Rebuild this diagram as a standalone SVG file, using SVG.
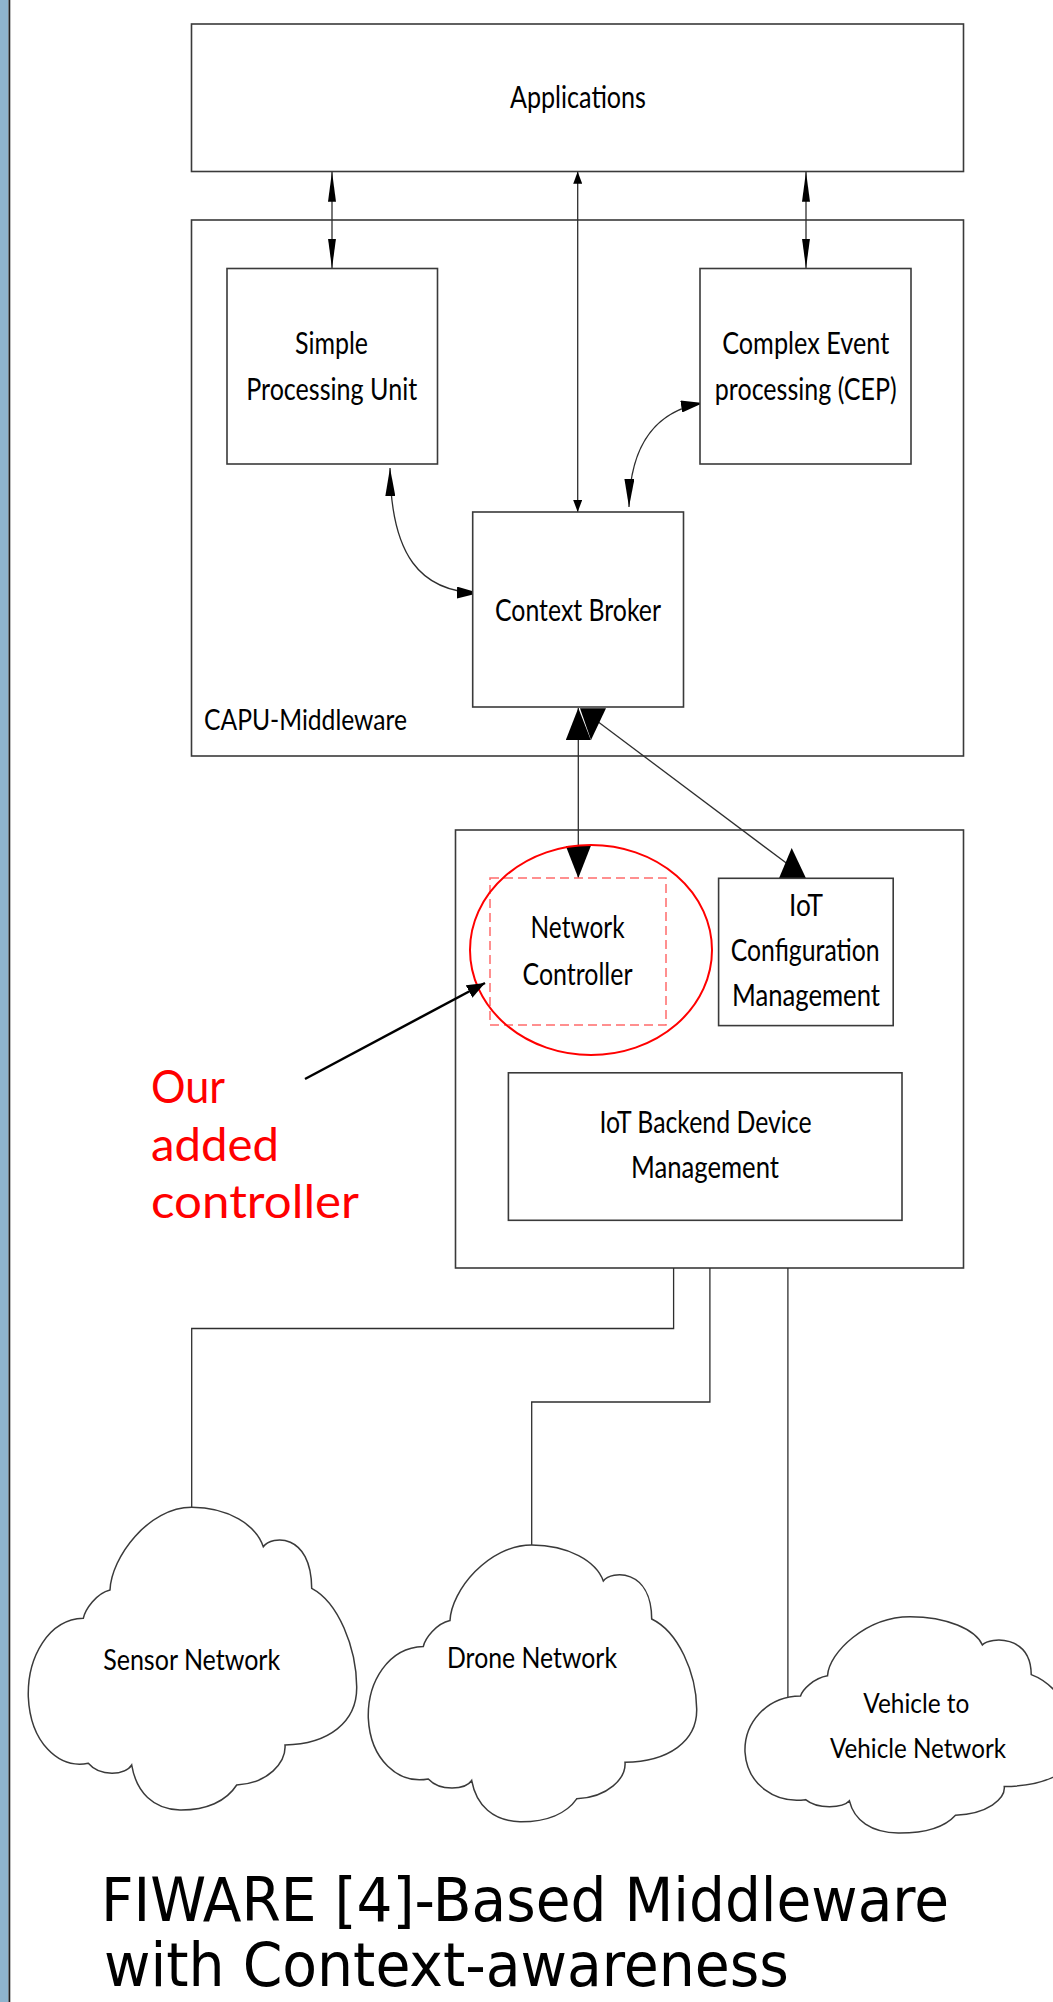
<svg xmlns="http://www.w3.org/2000/svg" xmlns:xlink="http://www.w3.org/1999/xlink" width="1053" height="2002" viewBox="0 0 1053 2002">
  <style>
    .box { fill: #ffffff; stroke: #3a3a3a; stroke-width: 1.6; }
    .wire { fill: none; stroke: #2e2e2e; stroke-width: 1.3; }
    .lbl { font-family: Lato, "Liberation Sans", sans-serif; font-size: 31px; fill: #000; text-anchor: middle; }
    .cloudlbl { font-family: Lato, "Liberation Sans", sans-serif; font-size: 29px; fill: #000; text-anchor: middle; }
    .note { font-family: Lato, "Liberation Sans", sans-serif; font-size: 46px; fill: #ff0000; }
    .title { font-family: "DejaVu Sans Condensed", "DejaVu Sans", "Liberation Sans", sans-serif; font-size: 60px; fill: #000; }
    .head { fill: #000; }
  </style>
  <defs>
    <marker id="spindle" viewBox="0 0 30 8" refX="30" refY="4" markerWidth="30" markerHeight="8" markerUnits="userSpaceOnUse" orient="auto-start-reverse">
      <path class="head" d="M0,0 L30,4 L0,8 z"/>
    </marker>
    <marker id="tick" viewBox="0 0 12 9" refX="12" refY="4.5" markerWidth="12" markerHeight="9" markerUnits="userSpaceOnUse" orient="auto-start-reverse">
      <path class="head" d="M0,0 L12,4.5 L0,9 z"/>
    </marker>
    <marker id="headLong" viewBox="0 0 28 10" refX="28" refY="5" markerWidth="28" markerHeight="10" markerUnits="userSpaceOnUse" orient="auto-start-reverse">
      <path class="head" d="M0,0 L28,5 L0,10 z"/>
    </marker>
    <marker id="headShort" viewBox="0 0 22 12" refX="22" refY="6" markerWidth="22" markerHeight="12" markerUnits="userSpaceOnUse" orient="auto-start-reverse">
      <path class="head" d="M0,0 L22,6 L0,12 z"/>
    </marker>
    <marker id="big" viewBox="0 0 32 25" refX="32" refY="12.5" markerWidth="32" markerHeight="25" markerUnits="userSpaceOnUse" orient="auto-start-reverse">
      <path class="head" d="M0,0 L32,12.5 L0,25 z"/>
    </marker>
    <marker id="pointer" viewBox="0 0 18 14" refX="18" refY="7" markerWidth="18" markerHeight="14" markerUnits="userSpaceOnUse" orient="auto">
      <path class="head" d="M0,0 L18,7 L0,14 z"/>
    </marker>
    <!-- cloud outline, 328 x 303 unit box -->
    <path id="cloudShape" vector-effect="non-scaling-stroke" fill="#ffffff" stroke="#3a3a3a" stroke-width="1.5"
      d="M55,111 C57,102 68,86 81.7,82.7 C83,50 120,0 163.4,0 C200,0 228,18 235,39.4 C243,28 283,25 283.4,81 C310,95 328,140 328.4,179.4 C329,215 300,237 256.7,237.7 C258,255 240,276 208.4,277.7 C198,294 178,303 151.7,302.7 C125,302 108,285 103.4,257.7 C97,268 72,270 60,256 C30,262 2,235 0,189.4 C-1,150 20,112 55,111 Z"/>
  </defs>

  <!-- page background and left slide border -->
  <rect x="0" y="0" width="1053" height="2002" fill="#ffffff"/>
  <rect x="0" y="0" width="8.5" height="2002" fill="#8eb4ce"/>
  <rect x="8.5" y="0" width="1.8" height="2002" fill="#222222"/>

  <!-- container nodes -->
  <g id="applications">
    <rect class="box" x="191.5" y="24" width="772" height="147.5"/>
    <text class="lbl" x="578" y="108" textLength="136" lengthAdjust="spacingAndGlyphs">Applications</text>
  </g>
  <g id="capu-middleware">
    <rect class="box" x="191.5" y="220" width="772" height="536"/>
    <text class="lbl" x="204" y="730" style="text-anchor:start;font-size:29px" textLength="203" lengthAdjust="spacingAndGlyphs">CAPU-Middleware</text>
  </g>
  <g id="iot-layer">
    <rect class="box" x="455.5" y="830" width="508" height="438"/>
  </g>

  <!-- connectors -->
  <g id="connectors">
    <path class="wire" d="M332,171.7 L332,268.5" marker-start="url(#spindle)" marker-end="url(#spindle)"/>
    <path class="wire" d="M806,171.7 L806,268.5" marker-start="url(#spindle)" marker-end="url(#spindle)"/>
    <path class="wire" d="M577.7,171.7 L577.7,512" marker-start="url(#tick)" marker-end="url(#tick)"/>
    <path class="wire" d="M390,468 C391,555 420,592 479,593" marker-start="url(#headLong)" marker-end="url(#headShort)"/>
    <path class="wire" d="M703,403 C660,410 630,440 629,507" marker-start="url(#headShort)" marker-end="url(#headLong)"/>
    <path class="wire" d="M578.3,708 L578.3,878" marker-start="url(#big)" marker-end="url(#big)"/>
    <path class="wire" d="M595,719.5 L795,869.6"/>
    <polygon class="head" points="580,708.3 606,708.3 591,740"/>
    <polygon class="head" points="791.7,848 779,878.3 806,878.3"/>
    <path class="wire" d="M673.6,1268 L673.6,1328.5 L191.7,1328.5 L191.7,1508"/>
    <path class="wire" d="M709.9,1268 L709.9,1402 L531.7,1402 L531.7,1546"/>
    <path class="wire" d="M787.9,1268 L787.9,1698"/>
  </g>

  <!-- inner nodes -->
  <g id="simple-processing-unit">
    <rect class="box" x="227" y="268.5" width="210.5" height="195.5"/>
    <text class="lbl" x="331.5" y="354" textLength="73" lengthAdjust="spacingAndGlyphs">Simple</text>
    <text class="lbl" x="331.7" y="400" textLength="171" lengthAdjust="spacingAndGlyphs">Processing Unit</text>
  </g>
  <g id="cep">
    <rect class="box" x="700" y="268.5" width="211" height="195.5"/>
    <text class="lbl" x="805.7" y="354" textLength="167" lengthAdjust="spacingAndGlyphs">Complex Event</text>
    <text class="lbl" x="805.8" y="400" textLength="182" lengthAdjust="spacingAndGlyphs">processing (CEP)</text>
  </g>
  <g id="context-broker">
    <rect class="box" x="472.7" y="512" width="210.8" height="195"/>
    <text class="lbl" x="578" y="621" textLength="166" lengthAdjust="spacingAndGlyphs">Context Broker</text>
  </g>
  <g id="network-controller">
    <rect x="490" y="878" width="176" height="147" fill="#ffffff" stroke="#ff6b6b" stroke-width="1.5" stroke-dasharray="9 5"/>
    <text class="lbl" x="577.6" y="938" textLength="94" lengthAdjust="spacingAndGlyphs">Network</text>
    <text class="lbl" x="577.5" y="984.6" textLength="110" lengthAdjust="spacingAndGlyphs">Controller</text>
  </g>
  <g id="iot-configuration">
    <rect class="box" x="718.6" y="878.3" width="174.6" height="147.3"/>
    <text class="lbl" x="806" y="916" textLength="34" lengthAdjust="spacingAndGlyphs">IoT</text>
    <text class="lbl" x="805.2" y="961" textLength="149" lengthAdjust="spacingAndGlyphs">Configuration</text>
    <text class="lbl" x="806" y="1006" textLength="148" lengthAdjust="spacingAndGlyphs">Management</text>
  </g>
  <g id="iot-backend">
    <rect class="box" x="508.4" y="1072.8" width="393.6" height="147.5"/>
    <text class="lbl" x="705.5" y="1133" textLength="212" lengthAdjust="spacingAndGlyphs">IoT Backend Device</text>
    <text class="lbl" x="705" y="1177.5" textLength="148" lengthAdjust="spacingAndGlyphs">Management</text>
  </g>

  <!-- network clouds -->
  <g id="sensor-network">
    <use xlink:href="#cloudShape" href="#cloudShape" transform="translate(28.3,1507.3)"/>
    <text class="cloudlbl" x="191.7" y="1670" textLength="177" lengthAdjust="spacingAndGlyphs">Sensor Network</text>
  </g>
  <g id="drone-network">
    <use xlink:href="#cloudShape" href="#cloudShape" transform="translate(368.3,1545) scale(1,0.914)"/>
    <text class="cloudlbl" x="532" y="1668" textLength="170" lengthAdjust="spacingAndGlyphs">Drone Network</text>
  </g>
  <g id="v2v-network">
    <use xlink:href="#cloudShape" href="#cloudShape" transform="translate(745,1616.7) scale(1.01,0.7146)"/>
    <text class="cloudlbl" x="916.3" y="1713" style="font-size:26px" textLength="106" lengthAdjust="spacingAndGlyphs">Vehicle to</text>
    <text class="cloudlbl" x="918" y="1758" style="font-size:26px" textLength="176" lengthAdjust="spacingAndGlyphs">Vehicle Network</text>
  </g>

  <!-- highlight of the added controller -->
  <g id="annotation">
    <ellipse cx="591" cy="950" rx="121" ry="105" fill="none" stroke="#ff0000" stroke-width="2"/>
    <path d="M305,1079 L485,983" stroke="#000" stroke-width="2.5" fill="none" marker-end="url(#pointer)"/>
    <text class="note" x="151" y="1103" textLength="74" lengthAdjust="spacingAndGlyphs">Our</text>
    <text class="note" x="151" y="1160.7" textLength="128" lengthAdjust="spacingAndGlyphs">added</text>
    <text class="note" x="151" y="1217.5" textLength="208" lengthAdjust="spacingAndGlyphs">controller</text>
  </g>

  <!-- slide title -->
  <g id="title">
    <text class="title" x="101" y="1921" textLength="848" lengthAdjust="spacingAndGlyphs">FIWARE [4]-Based Middleware</text>
    <text class="title" x="104" y="1986" textLength="685" lengthAdjust="spacingAndGlyphs">with Context-awareness</text>
  </g>
</svg>
